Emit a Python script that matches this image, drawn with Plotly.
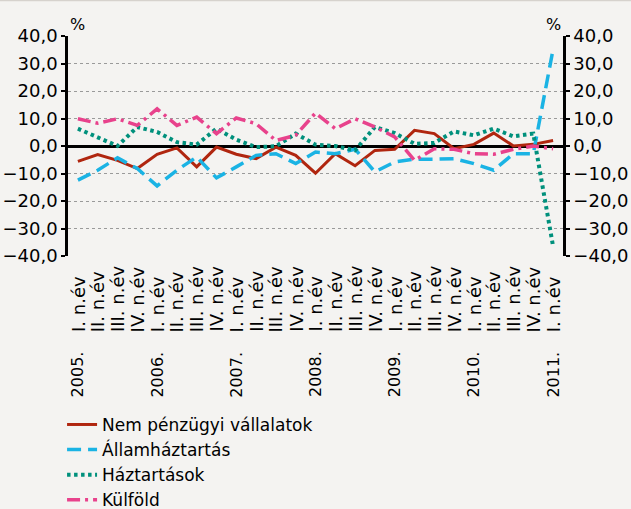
import plotly.graph_objects as go

years = ["2005.", "2006.", "2007.", "2008.", "2009.", "2010.", "2011."]
quarters = ["I. n.év", "II. n.év", "III. n.év", "IV. n.év"]
n_periods = 25

categories = []
for yi, yr in enumerate(years):
    for q in quarters:
        if len(categories) < n_periods:
            categories.append(f"{yr} {q}")

nem_penzugyi = [-5.6, -3.1, -5.2, -8.2, -3.0, -0.7, -7.6, -0.4, -3.0, -4.6,
                -0.4, -3.4, -9.9, -2.8, -7.2, -1.6, -1.2, 5.7, 4.5, -1.0,
                0.6, 4.7, 0.0, 0.6, 2.0]
allamhaztartas = [-12.4, -8.8, -4.3, -8.2, -14.5, -8.8, -4.0, -11.6, -7.6, -3.4,
                  -2.8, -6.4, -2.2, -2.8, -1.2, -9.4, -5.8, -4.8, -4.8, -4.6,
                  -6.4, -8.8, -2.8, -2.8, 35.2]
haztartasok = [6.3, 3.3, 0.0, 6.9, 5.1, 1.4, 0.5, 6.3, 2.3, -0.4,
               -0.1, 4.5, 0.5, 0.0, -1.6, 6.9, 4.7, 0.8, 1.1, 5.3,
               3.9, 6.3, 3.5, 4.5, -36.5]
kulfold = [9.9, 8.3, 9.9, 7.5, 13.5, 7.5, 10.5, 4.5, 10.2, 8.1,
           2.0, 3.9, 12.0, 6.3, 9.9, 6.9, 3.3, -5.2, -1.0, -1.2,
           -2.8, -3.0, -1.2, 0.0, -1.0]

series = [
    ("Nem pénzügyi vállalatok", nem_penzugyi, "#B0260F", "solid", 3),
    ("Államháztartás", allamhaztartas, "#1AB3E4", "14px,7px", 3.5),
    ("Háztartások", haztartasok, "#00907C", "3.5px,3.5px", 4),
    ("Külföld", kulfold, "#E8428C", "13px,5px,3px,5px", 3.5),
]

FONT = "DejaVu Sans"
BG = "#F4F3F1"

fig = go.Figure()
for name, vals, color, dash, w in series:
    fig.add_trace(go.Scatter(
        x=categories, y=vals, name=name, mode="lines",
        line=dict(color=color, dash=dash, width=w),
    ))

# invisible carrier trace so the right-hand axis is drawn
fig.add_trace(go.Scatter(x=categories, y=nem_penzugyi, yaxis="y2",
                         mode="lines", line=dict(width=0),
                         showlegend=False, hoverinfo="skip", opacity=0))

n = len(categories)
boundary_ticks = [i + 0.5 for i in range(n - 1)]

yax = dict(range=[-40, 40], dtick=10, tickformat=".1f",
           ticks="outside", ticklen=4, tickwidth=2, tickcolor="black",
           showline=True, linecolor="black", linewidth=2.5,
           tickfont=dict(family=FONT, size=18, color="black"),
           fixedrange=True, automargin=False)

fig.update_layout(
    width=631, height=509,
    margin=dict(l=68, r=68, t=36, b=253, autoexpand=False),
    paper_bgcolor=BG, plot_bgcolor=BG,
    separators=", ",
    showlegend=True,
    legend=dict(x=-0.012, y=-0.686, xanchor="left", yanchor="top",
                bgcolor="rgba(0,0,0,0)",
                font=dict(family=FONT, size=17, color="black"),
                tracegroupgap=0, itemwidth=30),
    xaxis=dict(type="category", range=[-0.5, n - 0.5],
               showticklabels=False, ticks="", showline=False,
               showgrid=False, zeroline=False, fixedrange=True),
    yaxis=dict(**yax, showgrid=True, gridcolor="#9A9A9A", griddash="dot",
               gridwidth=1, zeroline=True, zerolinecolor="black",
               zerolinewidth=2.5),
    yaxis2=dict(**yax, overlaying="y", side="right", anchor="x",
                showgrid=False, zeroline=False),
    xaxis2=dict(overlaying="x", anchor="free", position=0.5,
                range=[-0.5, n - 0.5], tickmode="array",
                tickvals=boundary_ticks, ticks="outside", ticklen=4,
                tickwidth=2, tickcolor="black", showticklabels=False,
                showline=False, showgrid=False, zeroline=False),
    xaxis3=dict(overlaying="x", anchor="free", position=0.5,
                range=[-0.5, n - 0.5], tickmode="array",
                tickvals=boundary_ticks, ticks="inside", ticklen=4,
                tickwidth=2, tickcolor="black", showticklabels=False,
                showline=False, showgrid=False, zeroline=False),
)

annotations = []
for i, cat in enumerate(categories):
    yr, q = cat.split(" ", 1)
    annotations.append(dict(
        x=cat, xref="x", y=-0.355, yref="paper", text=q, showarrow=False,
        textangle=-90, xanchor="center", yanchor="bottom",
        font=dict(family=FONT, size=18, color="black")))
    if q == quarters[0]:
        annotations.append(dict(
            x=cat, xref="x", y=-0.425, yref="paper", text=yr,
            showarrow=False, textangle=-90, xanchor="center", yanchor="top",
            font=dict(family=FONT, size=16, color="black")))

annotations.append(dict(x=0.0, xref="paper", y=1.0, yref="paper", text="%",
                        showarrow=False, xanchor="left", yanchor="bottom",
                        font=dict(family=FONT, size=16, color="black")))
annotations.append(dict(x=1.0, xref="paper", y=1.0, yref="paper", text="%",
                        showarrow=False, xanchor="right", yanchor="bottom",
                        font=dict(family=FONT, size=16, color="black")))
fig.update_layout(annotations=annotations)

fig.add_shape(type="line", xref="paper", yref="paper",
              x0=-0.2, x1=1.2, y0=1 + 35.5 / 220, y1=1 + 35.5 / 220,
              line=dict(color="#D6D2CD", width=1.5))

fig.write_html(
    "out.html",
    config={"displayModeBar": False},
    post_script="document.body.style.margin='0';"
                "document.body.style.background='#F4F3F1';",
)
